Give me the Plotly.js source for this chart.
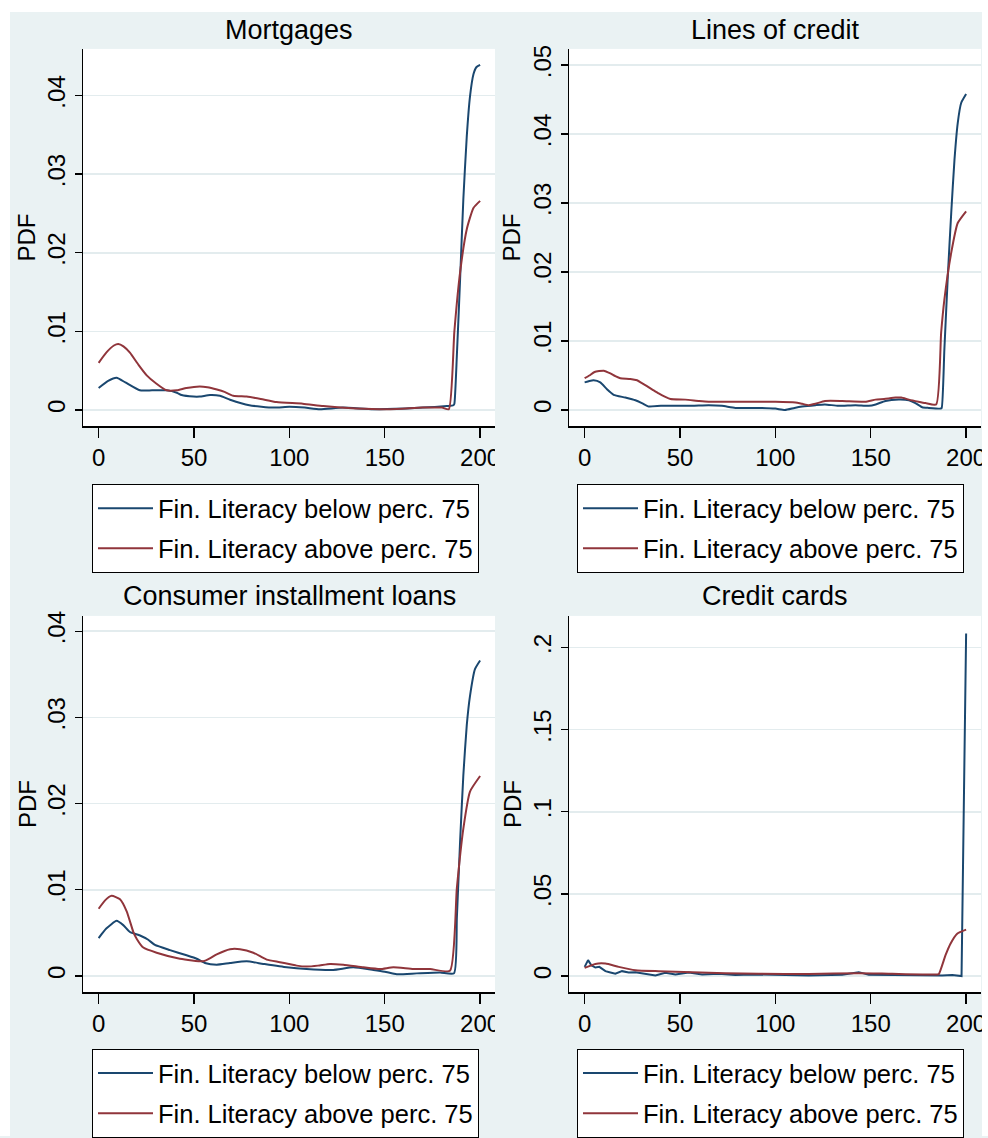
<!DOCTYPE html>
<html>
<head>
<meta charset="utf-8">
<script src="https://cdn.plot.ly/plotly-3.0.1.min.js"></script>
<style>
  html, body { margin: 0; padding: 0; background: #ffffff; }
  #chart { width: 988px; height: 1138px; }
</style>
</head>
<body>
<div id="chart"></div>
<script>
// ---------- Data ----------
const seriesNames = ["Fin. Literacy below perc. 75", "Fin. Literacy above perc. 75"];
const panelTitles = ["Mortgages", "Lines of credit", "Consumer installment loans", "Credit cards"];

const xTickVals = [0, 50, 100, 150, 200];
const xTickText = ["0", "50", "100", "150", "200"];

const yTickValsMort = [0, 0.01, 0.02, 0.03, 0.04];
const yTickTextMort = ["0", ".01", ".02", ".03", ".04"];
const yTickValsLoc = [0, 0.01, 0.02, 0.03, 0.04, 0.05];
const yTickTextLoc = ["0", ".01", ".02", ".03", ".04", ".05"];
const yTickValsCil = [0, 0.01, 0.02, 0.03, 0.04];
const yTickTextCil = ["0", ".01", ".02", ".03", ".04"];
const yTickValsCc = [0, 0.05, 0.1, 0.15, 0.2];
const yTickTextCc = ["0", ".05", ".1", ".15", ".2"];

// Mortgages
const mortBelowX = [0, 5, 9.4, 14, 21.6, 28, 35.6, 41, 43.5, 49.7, 53, 58.4, 63.6, 68.9, 79, 91.6, 100, 108, 116, 128, 144, 161, 170, 182.6, 186, 186.5, 187.8, 189.5, 191.2, 193, 194.7, 196.5, 198, 200];
const mortBelowY = [0.0028, 0.0037, 0.0041, 0.0035, 0.0025, 0.0025, 0.0025, 0.0022, 0.0019, 0.0017, 0.0017, 0.0019, 0.0018, 0.0013, 0.0006, 0.0003, 0.0004, 0.0003, 0.0001, 0.0003, 0.0001, 0.0002, 0.0003, 0.0005, 0.0006, 0.0008, 0.0069, 0.0166, 0.0268, 0.0348, 0.0399, 0.0427, 0.0436, 0.0439];
const mortAboveX = [0, 4, 8, 10.3, 13, 16.4, 21, 25.2, 30, 35.6, 41, 46, 53, 57, 62, 66, 70.6, 77.6, 85, 93.3, 107, 117.8, 135, 153, 170, 180, 183.6, 186.5, 189.5, 193, 196.5, 200];
const mortAboveY = [0.0060, 0.0073, 0.0082, 0.0084, 0.0081, 0.0073, 0.0057, 0.0044, 0.0034, 0.0025, 0.0025, 0.0028, 0.0030, 0.0029, 0.0026, 0.0023, 0.0018, 0.0017, 0.0014, 0.0010, 0.0008, 0.0005, 0.0002, 0.0001, 0.0003, 0.0003, 0.0001, 0.0100, 0.0175, 0.0230, 0.0257, 0.0266];

// Lines of credit
const locBelowX = [0, 2.5, 4.7, 8.2, 11.7, 15.2, 21.3, 26.6, 30, 33.6, 40, 47.6, 56.3, 65, 72, 79, 91.3, 100, 105, 110, 114, 121, 126, 133, 142, 149, 152.6, 157.7, 164.7, 170, 173.4, 177, 180.4, 186.6, 187.2, 188.6, 190.4, 192.2, 193.9, 195.6, 197.4, 200];
const locBelowY = [0.0040, 0.0042, 0.0043, 0.0040, 0.0030, 0.0022, 0.0018, 0.0014, 0.0010, 0.0005, 0.0006, 0.0006, 0.0006, 0.0007, 0.0006, 0.0003, 0.0003, 0.0002, 0.0000, 0.0003, 0.0005, 0.0007, 0.0008, 0.0006, 0.0007, 0.0006, 0.0008, 0.0013, 0.0015, 0.0014, 0.0010, 0.0004, 0.0003, 0.0002, 0.0003, 0.0088, 0.0194, 0.0286, 0.0363, 0.0416, 0.0445, 0.0458];
const locAboveX = [0, 2.5, 5.2, 10, 13.5, 16.1, 18.7, 24, 27.5, 30, 35.3, 38.8, 42.3, 45, 52.8, 60, 65, 82.5, 100, 110.5, 114, 117.5, 121, 126, 135, 147, 152.5, 157, 163, 166, 170, 175, 178.7, 184.3, 186.9, 188.6, 192.2, 195.6, 200];
const locAboveY = [0.0046, 0.0050, 0.0055, 0.0057, 0.0053, 0.0049, 0.0046, 0.0045, 0.0043, 0.0039, 0.0030, 0.0024, 0.0019, 0.0016, 0.0015, 0.0013, 0.0012, 0.0012, 0.0012, 0.0011, 0.0009, 0.0007, 0.0009, 0.0013, 0.0013, 0.0012, 0.0015, 0.0016, 0.0018, 0.0018, 0.0015, 0.0012, 0.0010, 0.0008, 0.0112, 0.0160, 0.0228, 0.0271, 0.0288];

// Consumer installment loans
const cilBelowX = [0, 4, 9.4, 12.9, 16.4, 21.7, 26, 29.5, 37.4, 46.1, 51.4, 55.7, 61.9, 68.9, 77.6, 86.3, 98.6, 109, 123, 133.5, 144, 150, 156.3, 166.8, 179, 186.3, 187.8, 189.5, 191.2, 193, 194.7, 197.3, 200];
const cilBelowY = [0.0044, 0.0055, 0.0064, 0.0059, 0.0051, 0.0047, 0.0042, 0.0036, 0.0030, 0.0024, 0.0020, 0.0015, 0.0013, 0.0015, 0.0017, 0.0014, 0.0010, 0.0008, 0.0007, 0.0010, 0.0007, 0.0005, 0.0002, 0.0003, 0.0004, 0.0003, 0.0067, 0.0156, 0.0233, 0.0291, 0.0325, 0.0356, 0.0366];
const cilAboveX = [0, 3.5, 6.8, 11.2, 14.7, 18.2, 20, 23.4, 30.4, 42.6, 54.9, 58, 61.9, 68.9, 74.1, 81.1, 88.1, 95, 103.8, 109, 115, 121.3, 128.3, 138.8, 147.5, 154.5, 165, 173.8, 184.2, 187.8, 191.2, 194.7, 200];
const cilAboveY = [0.0078, 0.0088, 0.0093, 0.0089, 0.0075, 0.0051, 0.0043, 0.0033, 0.0027, 0.0020, 0.0017, 0.0020, 0.0025, 0.0031, 0.0031, 0.0027, 0.0019, 0.0016, 0.0012, 0.0011, 0.0012, 0.0014, 0.0013, 0.0010, 0.0008, 0.0010, 0.0008, 0.0008, 0.0006, 0.0102, 0.0171, 0.0214, 0.0232];

// Credit cards
const ccBelowX = [0, 1.8, 3.5, 5.6, 7.7, 10.9, 13.5, 16.1, 19.6, 23.1, 26.6, 31.8, 37.1, 42.3, 47.6, 54.6, 61.6, 70.3, 79, 87.8, 100, 117.5, 135, 143.7, 149, 161, 178.7, 187.4, 192.7, 197, 197.6, 200];
const ccBelowY = [0.0056, 0.0097, 0.0066, 0.0052, 0.0056, 0.0030, 0.0022, 0.0014, 0.0030, 0.0022, 0.0024, 0.0016, 0.0004, 0.0020, 0.0010, 0.0022, 0.0010, 0.0014, 0.0006, 0.0010, 0.0006, 0.0004, 0.0008, 0.0024, 0.0008, 0.0006, 0.0002, 0.0004, 0.0006, 0.0002, 0.0000, 0.2085];
const ccAboveX = [0, 5.6, 10.9, 17.9, 26.6, 38.8, 56.3, 73.8, 91.3, 117.5, 143.7, 161.2, 184.8, 185.7, 189.2, 191.8, 195.3, 200];
const ccAboveY = [0.0050, 0.0074, 0.0076, 0.0056, 0.0036, 0.0030, 0.0024, 0.0018, 0.0014, 0.0012, 0.0018, 0.0014, 0.0010, 0.0012, 0.0127, 0.0197, 0.0258, 0.0283];

// ---------- Styling ----------
const W = 988, H = 1138;
const BLUE = "#1a476f", RED = "#90353b";
const BG = "#eaf2f3", GRID = "#e3ecee";
const FONT = "Liberation Sans, Arial, Helvetica, sans-serif";

const px = v => v / W;
const py = v => 1 - v / H;

// plot areas in pixels: [left, right, top, bottom]
const boxes = [
  [83, 495, 49, 427],
  [569, 981, 49, 427],
  [83, 495, 617, 994],
  [569, 981, 617, 994]
];
const yRanges = [
  [-0.00207, 0.04593],
  [-0.00236, 0.05234],
  [-0.00189, 0.04178],
  [-0.00984, 0.2192]
];
const yTicks = [
  [yTickValsMort, yTickTextMort],
  [yTickValsLoc, yTickTextLoc],
  [yTickValsCil, yTickTextCil],
  [yTickValsCc, yTickTextCc]
];
const data = [
  [mortBelowX, mortBelowY, mortAboveX, mortAboveY],
  [locBelowX, locBelowY, locAboveX, locAboveY],
  [cilBelowX, cilBelowY, cilAboveX, cilAboveY],
  [ccBelowX, ccBelowY, ccAboveX, ccAboveY]
];
const smoothBelow = [true, true, true, false];
const legendPos = [[92, 485], [577, 485], [92, 1051], [577, 1051]];
const titleY = [30, 30, 597, 597];
const pdfX = [27, 512, 27, 512];

const traces = [];
const layout = {
  width: W, height: H,
  margin: {l: 0, r: 0, t: 0, b: 0},
  paper_bgcolor: BG,
  plot_bgcolor: "#ffffff",
  font: {family: FONT, size: 24, color: "#000000"},
  showlegend: true,
  annotations: [],
  shapes: [
    // clip of the left graphs at the start of the right graphs
    {type: "rect", xref: "paper", yref: "paper", x0: px(495), x1: px(505), y0: py(480), y1: py(438), fillcolor: BG, line: {width: 0}, layer: "above"},
    {type: "rect", xref: "paper", yref: "paper", x0: px(495), x1: px(505), y0: py(1045), y1: py(1005), fillcolor: BG, line: {width: 0}, layer: "above"},
    // white outer border
    {type: "rect", xref: "paper", yref: "paper", x0: 0, x1: px(10), y0: 0, y1: 1, fillcolor: "#ffffff", line: {width: 0}, layer: "above"},
    {type: "rect", xref: "paper", yref: "paper", x0: 0, x1: 1, y0: py(12), y1: 1, fillcolor: "#ffffff", line: {width: 0}, layer: "above"},
    {type: "rect", xref: "paper", yref: "paper", x0: px(982), x1: 1, y0: 0, y1: 1, fillcolor: "#ffffff", line: {width: 0}, layer: "above"}
  ]
};

for (let i = 0; i < 4; i++) {
  const s = i === 0 ? "" : String(i + 1);
  const b = boxes[i];
  const legKey = "legend" + s;
  const [bx, by, ax, ay] = data[i];
  traces.push({
    x: bx, y: by, type: "scatter", mode: "lines", name: seriesNames[0],
    xaxis: "x" + s, yaxis: "y" + s, legend: legKey, legendgroup: "g1" + s,
    line: {color: BLUE, width: 2, shape: smoothBelow[i] ? "spline" : "linear", smoothing: 0.5},
    hoverinfo: "skip"
  });
  traces.push({
    x: ax, y: ay, type: "scatter", mode: "lines", name: seriesNames[1],
    xaxis: "x" + s, yaxis: "y" + s, legend: legKey, legendgroup: "g2" + s,
    line: {color: RED, width: 2, shape: "spline", smoothing: 0.5},
    hoverinfo: "skip"
  });
  layout["xaxis" + s] = {
    domain: [px(b[0]), px(b[1])], anchor: "y" + s,
    range: [-8.2, 207.8], fixedrange: true,
    tickmode: "array", tickvals: xTickVals, ticktext: xTickText,
    ticks: "outside", ticklen: 10, tickwidth: 1.3, tickcolor: "#000",
    ticklabelstandoff: 0,
    showline: true, linecolor: "#000", linewidth: 1.3,
    showgrid: false, zeroline: false,
    tickfont: {family: FONT, size: 24, color: "#000"}
  };
  layout["yaxis" + s] = {
    domain: [py(b[3]), py(b[2])], anchor: "x" + s,
    range: yRanges[i], fixedrange: true,
    tickmode: "array", tickvals: yTicks[i][0], ticktext: yTicks[i][1],
    tickangle: -90,
    ticks: "outside", ticklen: 7, tickwidth: 1.3, tickcolor: "#000",
    ticklabelstandoff: 0,
    showline: true, linecolor: "#000", linewidth: 1.3,
    showgrid: true, gridcolor: GRID, gridwidth: 1.6, zeroline: false,
    tickfont: {family: FONT, size: 24, color: "#000"}
  };
  layout[legKey] = {
    x: px(legendPos[i][0]), y: py(legendPos[i][1]),
    xanchor: "left", yanchor: "top",
    bgcolor: "#ffffff", bordercolor: "#000000", borderwidth: 1,
    font: {family: FONT, size: 25.5, color: "#000"},
    itemwidth: 55, tracegroupgap: 4
  };
  layout.annotations.push({
    text: panelTitles[i], xref: "paper", yref: "paper",
    x: px((b[0] + b[1]) / 2), y: py(titleY[i]),
    xanchor: "center", yanchor: "middle", showarrow: false,
    font: {family: FONT, size: 27, color: "#000"}
  });
  layout.annotations.push({
    text: "PDF", xref: "paper", yref: "paper",
    x: px(pdfX[i]), y: py((b[2] + b[3]) / 2),
    xanchor: "center", yanchor: "middle", showarrow: false, textangle: -90,
    font: {family: FONT, size: 24, color: "#000"}
  });
}

Plotly.newPlot("chart", traces, layout, {staticPlot: true, displayModeBar: false});
</script>
</body>
</html>
